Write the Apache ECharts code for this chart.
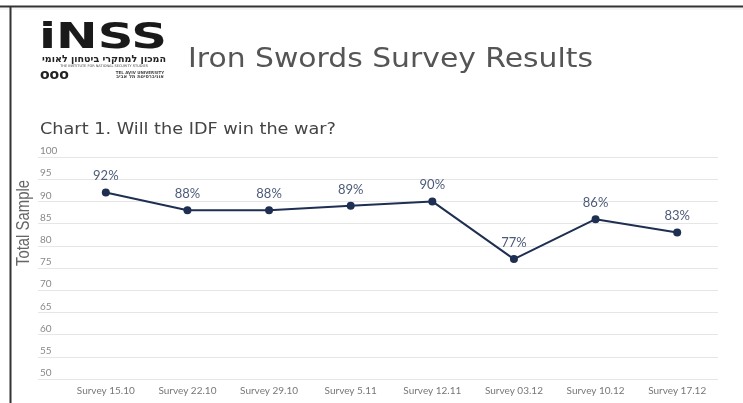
<!DOCTYPE html>
<html><head><meta charset="utf-8">
<script src="https://cdn.jsdelivr.net/npm/echarts@6/dist/echarts.min.js"></script>
<style>html,body{margin:0;padding:0;background:#fff}#c{width:743px;height:403px}</style>
</head><body><div id="c"></div>
<script>
const categories = ['Survey 15.10','Survey 22.10','Survey 29.10','Survey 5.11','Survey 12.11','Survey 03.12','Survey 10.12','Survey 17.12'];
const values = [92, 88, 88, 89, 90, 77, 86, 83];
const yMin = 50, yMax = 100, yStep = 5;
const titleText = 'Iron Swords Survey Results';
const subtitleText = 'Chart 1. Will the IDF win the war?';
const yAxisName = 'Total Sample';

const cv = document.createElement('canvas').getContext('2d');
function fitScale(text, font, w) { cv.font = font; return w / cv.measureText(text).width; }

const chart = echarts.init(document.getElementById('c'), null, {renderer: 'canvas'});
const titleFont = '26px "DejaVu Sans"';
const subFont = '15px "DejaVu Sans"';
const yNameFont = '18px "Liberation Sans"';
const logoFont = '900 40px "DejaVu Sans"';
const hebFont = 'bold 10px "DejaVu Sans"';
const hebText = 'המכון למחקרי ביטחון לאומי';

chart.setOption({
  animation: false,
  backgroundColor: '#fff',
  grid: [
    {left: 38, right: 25, top: 157, bottom: 24},
    {left: 65, right: 25, top: 157, bottom: 24}
  ],
  xAxis: [
    {gridIndex: 0, type: 'value', min: 0, max: 1, show: false},
    {gridIndex: 1, type: 'category', data: categories, boundaryGap: true,
     axisLine: {show: false}, axisTick: {show: false},
     axisLabel: {color: '#777', fontSize: 10, fontFamily: 'Lato', margin: 7, interval: 0}}
  ],
  yAxis: [
    {gridIndex: 0, type: 'value', min: yMin, max: yMax, interval: yStep,
     axisLine: {show: false}, axisTick: {show: false},
     axisLabel: {inside: true, margin: 2, align: 'left', verticalAlign: 'bottom', color: '#888', fontSize: 10, fontFamily: 'Lato', padding: [0,0,1,0]},
     splitLine: {lineStyle: {color: '#e6e6e6', width: 1}}},
    {gridIndex: 1, type: 'value', min: yMin, max: yMax, interval: yStep, show: false, splitLine: {show: false}}
  ],
  series: [{
    type: 'line', xAxisIndex: 1, yAxisIndex: 1, data: values,
    symbol: 'circle', symbolSize: 8,
    lineStyle: {color: '#1e2f52', width: 2},
    itemStyle: {color: '#1e2f52'},
    label: {show: true, position: 'top', distance: 6, formatter: '{c}%', color: '#4d5b78', fontSize: 13, fontFamily: 'Lato'}
  }],
  graphic: [
    {type: 'line', shape: {x1: 0, y1: 6.5, x2: 743, y2: 6.5}, style: {stroke: '#333', lineWidth: 2}},
    {type: 'line', shape: {x1: 0, y1: 9, x2: 743, y2: 9}, style: {stroke: '#ececec', lineWidth: 1}},
    {type: 'line', shape: {x1: 10.5, y1: 6, x2: 10.5, y2: 403}, style: {stroke: '#333', lineWidth: 2}},
    {type: 'text', x: 188, y: 60, scaleX: fitScale(titleText, titleFont, 405),
     style: {text: titleText, font: titleFont, fill: '#555', verticalAlign: 'middle'}},
    {type: 'text', x: 40, y: 130, scaleX: fitScale(subtitleText, subFont, 296),
     style: {text: subtitleText, font: subFont, fill: '#444', verticalAlign: 'middle'}},
    {type: 'text', x: 24, y: 223, rotation: Math.PI/2, scaleX: fitScale(yAxisName, yNameFont, 86),
     style: {text: yAxisName, font: yNameFont, fill: '#666', align: 'center', verticalAlign: 'middle'}},
    // logo
    {type: 'text', x: 39, y: 39, scaleX: fitScale('iNSS', logoFont, 128), scaleY: 0.9,
     style: {text: 'iNSS', font: logoFont, fill: '#1a1a1a', verticalAlign: 'middle'}},
    {type: 'text', x: 104, y: 59.5, scaleX: fitScale(hebText, hebFont, 124),
     style: {text: hebText, font: hebFont, fill: '#222', align: 'center', verticalAlign: 'middle'}},
    {type: 'text', x: 104, y: 66.5,
     style: {text: 'THE INSTITUTE FOR NATIONAL SECURITY STUDIES', font: '3.5px "DejaVu Sans"', fill: '#444', align: 'center', verticalAlign: 'middle'}},
    {type: 'text', x: 40, y: 75, style: {text: 'ooo', font: 'bold 14px "DejaVu Sans"', fill: '#222', verticalAlign: 'middle'}},
    {type: 'text', x: 140, y: 72.5, style: {text: 'TEL AVIV UNIVERSITY', font: 'bold 4px "DejaVu Sans"', fill: '#444', align: 'center', verticalAlign: 'middle'}},
    {type: 'text', x: 140, y: 77, style: {text: 'אוניברסיטת תל אביב', font: 'bold 5px "DejaVu Sans"', fill: '#444', align: 'center', verticalAlign: 'middle'}}
  ]
});
</script></body></html>
